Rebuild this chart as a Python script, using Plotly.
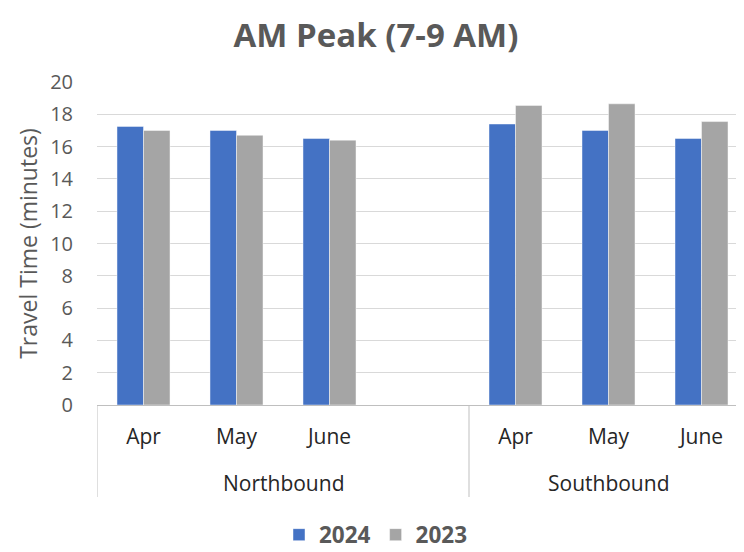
import plotly.graph_objects as go

months = ["Apr", "May", "June"]
directions = ["Northbound", "Southbound"]
nb_2024 = [17.25, 17.0, 16.5]
nb_2023 = [17.0, 16.7, 16.4]
sb_2024 = [17.4, 17.0, 16.5]
sb_2023 = [18.55, 18.65, 17.55]
y_ticks = list(range(0, 21, 2))

# slot positions: Northbound has 3 months + one empty slot, then Southbound
nb_pos = [0, 1, 2]
sb_pos = [4, 5, 6]
x_pos = nb_pos + sb_pos
v2024 = nb_2024 + sb_2024
v2023 = nb_2023 + sb_2023

FONT = "Open Sans"
BLUE = "#4472C4"
GRAY = "#A5A5A5"

fig = go.Figure()
fig.add_trace(go.Bar(x=x_pos, y=v2024, name="2024", marker=dict(color=BLUE, line=dict(color="rgba(255,255,255,0.45)", width=1))))
fig.add_trace(go.Bar(x=x_pos, y=v2023, name="2023", marker=dict(color=GRAY, line=dict(color="rgba(255,255,255,0.45)", width=1))))

W, H = 744, 552
OFF = 8  # page body margin offset
ml, mr, mt = 96.5 - OFF, 4, 82 - OFF
plot_bottom = 405 - OFF
mb = H - plot_bottom
plot_h = plot_bottom - mt

fig.update_layout(
    width=W, height=H,
    margin=dict(l=ml, r=mr, t=mt, b=mb, pad=0, autoexpand=False),
    paper_bgcolor="white", plot_bgcolor="white",
    barmode="group", bargap=0.43, bargroupgap=0,
    font=dict(family=FONT, color="#595959"),
    title=dict(text="<b>AM Peak (7-9 AM)</b>", x=(376 - OFF) / W, xref="container", xanchor="center",
               y=1 - (35 - OFF) / H, yref="container", yanchor="middle",
               font=dict(size=33, color="#595959", family=FONT)),
    showlegend=True,
    legend=dict(orientation="h", x=(376 - OFF) / W, xanchor="center", xref="container",
                y=1 - (535 - OFF) / H, yref="container", yanchor="middle",
                font=dict(size=22.5, color="#595959", family=FONT, weight="bold"),
                itemwidth=30, traceorder="normal"),
    xaxis=dict(range=[-0.5, 6.5], tickmode="array", tickvals=x_pos, ticktext=months * 2,
               showgrid=False, zeroline=False, showline=True, linecolor="#BFBFBF", linewidth=1,
               ticks="", ticklabelstandoff=13, automargin=False,
               tickfont=dict(size=21, color="#262626", family=FONT)),
    yaxis=dict(range=[0, 20], tickmode="array", tickvals=y_ticks,
               showgrid=True, gridcolor="#D9D9D9", gridwidth=1.3, zeroline=False,
               showline=False, ticks="", ticklabelstandoff=23, automargin=False,
               tickfont=dict(size=20, color="#595959", family=FONT),
               title=dict(text="Travel Time (minutes)", standoff=6,
                          font=dict(size=23, color="#595959", family=FONT))),
)

# group dividers and labels for the two-level category axis
y_bottom = -(497 - 405) / plot_h
for xd in [-0.5, 3.5]:
    fig.add_shape(type="line", xref="x", yref="paper", x0=xd, x1=xd, y0=0, y1=y_bottom,
                  line=dict(color="#BFBFBF", width=1))
group_centers = [(nb_pos[0] + 3) / 2, sum(sb_pos) / 3]
for name, cx in zip(directions, group_centers):
    fig.add_annotation(x=cx, xref="x", y=-(483 - 405) / plot_h, yref="paper",
                       text=name, showarrow=False, yanchor="middle",
                       font=dict(size=21, color="#262626", family=FONT))

fig.write_html("out.html")
